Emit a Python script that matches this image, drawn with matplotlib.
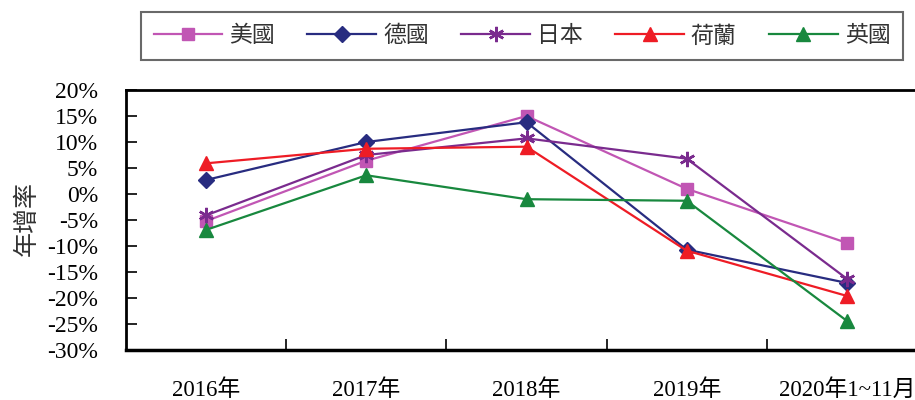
import matplotlib
matplotlib.use("Agg")
import matplotlib.pyplot as plt
from matplotlib.ticker import FixedLocator

plt.rcParams['font.family'] = ['Liberation Serif', 'Noto Sans CJK TC', 'DejaVu Sans']

categories = ["2016年", "2017年", "2018年", "2019年", "2020年1~11月"]
us = [-5.2, 6.4, 15.0, 1.0, -9.4]
germany = [2.7, 10.0, 13.8, -10.7, -17.1]
japan = [-4.1, 7.5, 10.7, 6.8, -16.3]
netherlands = [5.9, 8.7, 9.1, -10.9, -19.6]
uk = [-6.9, 3.6, -1.0, -1.3, -24.4]
series_names = ["美國", "德國", "日本", "荷蘭", "英國"]
yticks = [20, 15, 10, 5, 0, -5, -10, -15, -20, -25, -30]

fig = plt.figure(figsize=(9.15, 4.0), dpi=100)
ax = fig.add_axes([126/915, 1-350/400, (927-126)/915, (350-90)/400])

x = list(range(len(categories)))
styles = [
    (us, "#C156B4", "s", 9),
    (germany, "#282C80", "D", 8),
    (japan, "#7A2B8E", (6, 2, 0), 11),
    (netherlands, "#EE1C25", "^", 10),
    (uk, "#18883E", "^", 10),
]
handles = []
for (vals, col, mk, ms), name in zip(styles, series_names):
    h, = ax.plot(x, vals, color=col, marker=mk, markersize=ms, linewidth=1.6,
                 markeredgecolor=col, markerfacecolor=col, markeredgewidth=1.8 if mk == (6, 2, 0) else 1,
                 label=name, clip_on=False)
    handles.append(h)

ax.set_xlim(-0.5, len(categories) - 0.5)
ax.set_ylim(-30, 20)
ax.set_yticks(yticks)
ax.set_yticklabels([f"{v}%" for v in yticks], fontsize=17, family=['Liberation Serif'])
ax.set_xticks(x)
ax.set_xticklabels(categories, fontsize=16.5)
ax.xaxis.set_minor_locator(FixedLocator([i + 0.5 for i in range(len(categories) - 1)]))
ax.tick_params(axis='x', which='major', length=0, pad=21)
ax.tick_params(axis='x', which='minor', direction='in', length=8, width=1.2)
ax.tick_params(axis='y', direction='in', length=8, width=1.2, pad=20)
ax.spines['right'].set_visible(False)
for s in ['left', 'top']:
    ax.spines[s].set_linewidth(2)
ax.spines['bottom'].set_linewidth(2.5)

fig.text(27/915, 1-219/400, "年增率", rotation=90, ha='center', va='center',
         fontsize=18, family=['Noto Sans CJK TC'], color='#333333')

leg = fig.legend(handles=handles, loc='center', ncol=5, mode='expand',
                 bbox_to_anchor=(141/915, 1-62/400, (903-141)/915, 52/400),
                 prop={'family': ['Noto Sans CJK TC'], 'size': 16.5},
                 frameon=True, fancybox=False, edgecolor='#444444', handlelength=3.0,
                 handletextpad=0.3, borderpad=0.55, borderaxespad=0, columnspacing=0.8,
                 labelcolor='#333333')
leg.get_frame().set_linewidth(1.5)

fig.savefig("out.png", dpi=100)
